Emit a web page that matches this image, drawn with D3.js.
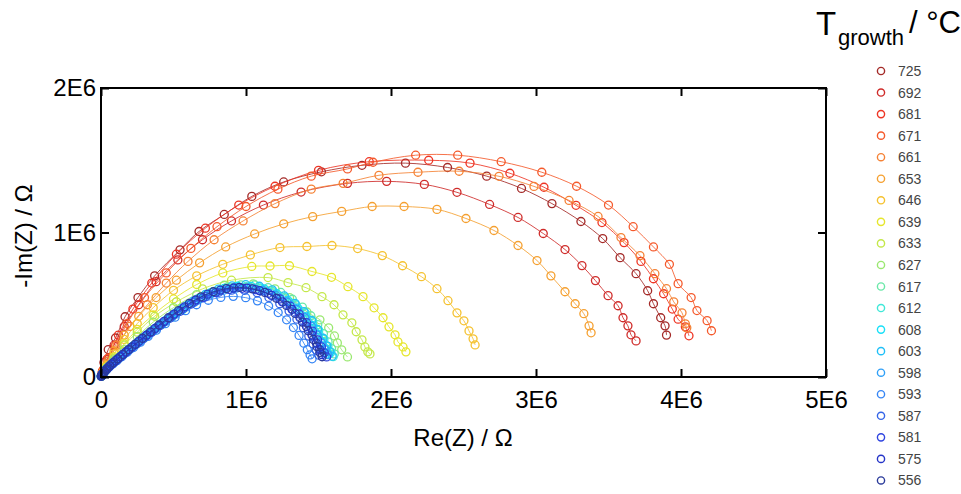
<!DOCTYPE html>
<html>
<head>
<meta charset="utf-8">
<script src="https://cdn.jsdelivr.net/npm/d3@7"></script>
<style>
  html, body { margin: 0; padding: 0; background: #fff; }
  svg { display: block; }
  text { font-family: Arial, "Liberation Sans", Helvetica, sans-serif; }
</style>
</head>
<body>
<svg id="chart" width="961" height="494"></svg>
<script>
// Impedance spectra (Nyquist plots), values in units of 1E6 Ω: [Re(Z), -Im(Z)]
const temperatures = ["725","692","681","671","661","653","646","639","633","627",
                      "617","612","608","603","598","593","587","581","575","556"];

const colors = ["#a42a28","#cf2c2a","#ee3524","#f55a2c","#f58235","#f5a030","#f5c230",
                "#e6e62c","#c4e84a","#9ae870","#6ae8a8","#40e8d8","#18e0f8","#20c0f8",
                "#30a0f8","#3585f5","#3565e8","#3045e0","#2535c8","#2a3a9a"];

const s725 = [[0.002,0.004],[0.008,0.03],[0.02,0.10],[0.05,0.19],[0.10,0.27],[0.166,0.417],[0.255,0.55],[0.37,0.70],[0.545,0.88],[0.676,1.007],[0.85,1.125],[1.04,1.25],[1.26,1.35],[1.52,1.42],[1.80,1.465],[2.10,1.48],[2.39,1.45],[2.66,1.39],[2.90,1.305],[3.11,1.20],[3.31,1.076],[3.46,0.958],[3.58,0.826],[3.69,0.715],[3.77,0.597],[3.81,0.507],[3.86,0.41],[3.89,0.354],[3.90,0.29]];
const s692 = [[0.004,0.01],[0.012,0.04],[0.04,0.12],[0.09,0.22],[0.16,0.35],[0.26,0.50],[0.38,0.66],[0.53,0.81],[0.70,0.95],[0.90,1.08],[1.12,1.19],[1.38,1.28],[1.70,1.34],[1.97,1.354],[2.23,1.333],[2.455,1.278],[2.68,1.194],[2.876,1.104],[3.05,0.993],[3.2,0.882],[3.317,0.771],[3.41,0.667],[3.497,0.563],[3.566,0.493],[3.60,0.41],[3.634,0.354],[3.655,0.292],[3.69,0.25]];
const s681 = [[0.003,0.01],[0.01,0.04],[0.05,0.13],[0.12,0.29],[0.22,0.47],[0.35,0.65],[0.52,0.85],[0.72,1.03],[0.95,1.19],[1.2,1.32],[1.5,1.43],[1.85,1.49],[2.26,1.50],[2.545,1.48],[2.82,1.41],[3.055,1.313],[3.276,1.188],[3.455,1.069],[3.607,0.93],[3.724,0.80],[3.81,0.68],[3.88,0.576],[3.94,0.47],[3.98,0.40],[4.03,0.347],[4.055,0.285]];
const s671 = [[0.004,0.01],[0.015,0.05],[0.05,0.13],[0.1,0.22],[0.18,0.37],[0.3,0.55],[0.45,0.72],[0.62,0.89],[0.8,1.04],[1.0,1.18],[1.22,1.30],[1.45,1.39],[1.70,1.44],[1.876,1.486],[2.17,1.535],[2.46,1.535],[2.76,1.49],[3.04,1.417],[3.28,1.32],[3.50,1.19],[3.67,1.04],[3.81,0.90],[3.92,0.78],[3.98,0.646],[4.07,0.55],[4.11,0.46],[4.18,0.39],[4.21,0.32]];
const s661 = [[0.004,0.01],[0.015,0.04],[0.05,0.11],[0.11,0.22],[0.2,0.35],[0.32,0.5],[0.45,0.65],[0.6,0.8],[0.78,0.95],[0.98,1.08],[1.2,1.2],[1.45,1.30],[1.67,1.34],[1.917,1.396],[2.186,1.417],[2.47,1.424],[2.745,1.389],[2.986,1.319],[3.228,1.222],[3.428,1.111],[3.586,0.965],[3.717,0.84],[3.82,0.715],[3.90,0.611],[3.95,0.52],[4.007,0.444],[4.03,0.368],[4.04,0.34]];
const s653 = [[0.004,0.008],[0.012,0.03],[0.04,0.09],[0.09,0.18],[0.16,0.29],[0.26,0.42],[0.38,0.55],[0.52,0.67],[0.68,0.79],[0.86,0.90],[1.06,0.99],[1.26,1.06],[1.46,1.11],[1.66,1.146],[1.87,1.18],[2.09,1.18],[2.317,1.16],[2.517,1.097],[2.71,1.014],[2.876,0.91],[3.007,0.806],[3.103,0.70],[3.2,0.59],[3.27,0.507],[3.33,0.438],[3.366,0.354],[3.38,0.306]];
const s646 = [[0.003,0.007],[0.01,0.025],[0.04,0.08],[0.09,0.16],[0.16,0.26],[0.25,0.37],[0.36,0.48],[0.5,0.6],[0.66,0.7],[0.84,0.78],[1.03,0.845],[1.234,0.896],[1.42,0.903],[1.593,0.91],[1.77,0.889],[1.94,0.84],[2.08,0.77],[2.21,0.694],[2.317,0.611],[2.393,0.528],[2.455,0.444],[2.503,0.389],[2.538,0.319],[2.566,0.264],[2.58,0.222]];
const s639 = [[0.003,0.006],[0.01,0.022],[0.04,0.07],[0.09,0.14],[0.16,0.23],[0.25,0.33],[0.36,0.43],[0.5,0.54],[0.66,0.64],[0.84,0.72],[1.04,0.765],[1.166,0.768],[1.30,0.77],[1.455,0.73],[1.59,0.69],[1.703,0.625],[1.807,0.556],[1.883,0.479],[1.945,0.41],[1.986,0.347],[2.028,0.292],[2.048,0.243],[2.083,0.208],[2.103,0.174]];
const s633 = [[0.003,0.006],[0.01,0.02],[0.04,0.065],[0.09,0.13],[0.16,0.22],[0.25,0.31],[0.37,0.42],[0.52,0.52],[0.7,0.61],[0.9,0.67],[1.152,0.688],[1.29,0.653],[1.414,0.618],[1.524,0.556],[1.607,0.50],[1.669,0.43],[1.73,0.375],[1.76,0.313],[1.80,0.257],[1.82,0.208],[1.84,0.174],[1.855,0.16]];
const s627 = [[0.003,0.005],[0.01,0.02],[0.04,0.06],[0.09,0.12],[0.16,0.19],[0.25,0.28],[0.36,0.38],[0.5,0.48],[0.66,0.57],[0.85,0.635],[1.05,0.645],[1.2,0.61],[1.3,0.55],[1.42,0.45],[1.51,0.396],[1.57,0.34],[1.61,0.284],[1.63,0.236],[1.66,0.188],[1.70,0.139]];
const s617 = [[0.004,0.009],[0.010,0.019],[0.020,0.032],[0.034,0.049],[0.053,0.069],[0.077,0.092],[0.106,0.117],[0.140,0.146],[0.180,0.179],[0.225,0.216],[0.276,0.256],[0.331,0.300],[0.392,0.348],[0.458,0.398],[0.530,0.450],[0.607,0.502],[0.689,0.551],[0.776,0.593],[0.869,0.622],[0.965,0.638],[1.06,0.637],[1.153,0.618],[1.240,0.585],[1.320,0.538],[1.389,0.484],[1.447,0.424],[1.495,0.362],[1.534,0.300],[1.566,0.243],[1.59,0.197],[1.609,0.160]];
const s612 = [[0.002,0.005],[0.006,0.013],[0.014,0.024],[0.025,0.038],[0.042,0.057],[0.063,0.078],[0.089,0.101],[0.121,0.127],[0.158,0.158],[0.200,0.192],[0.247,0.229],[0.299,0.271],[0.357,0.315],[0.42,0.364],[0.488,0.414],[0.562,0.465],[0.641,0.515],[0.725,0.561],[0.814,0.596],[0.908,0.618],[1.003,0.626],[1.097,0.616],[1.187,0.591],[1.271,0.550],[1.344,0.500],[1.407,0.444],[1.460,0.384],[1.502,0.323],[1.538,0.263],[1.565,0.212],[1.586,0.172],[1.601,0.141]];
const s608 = [[0.004,0.009],[0.010,0.019],[0.019,0.032],[0.033,0.048],[0.052,0.068],[0.075,0.090],[0.104,0.115],[0.137,0.144],[0.176,0.176],[0.220,0.213],[0.269,0.252],[0.323,0.296],[0.383,0.343],[0.448,0.393],[0.518,0.444],[0.593,0.495],[0.673,0.543],[0.758,0.584],[0.849,0.613],[0.942,0.628],[1.035,0.627],[1.126,0.609],[1.211,0.576],[1.289,0.530],[1.356,0.477],[1.413,0.418],[1.459,0.357],[1.498,0.296],[1.529,0.240],[1.553,0.194],[1.571,0.158]];
const s603 = [[0.002,0.005],[0.006,0.013],[0.014,0.025],[0.025,0.039],[0.042,0.058],[0.063,0.079],[0.089,0.103],[0.120,0.130],[0.157,0.161],[0.199,0.196],[0.246,0.234],[0.298,0.276],[0.355,0.321],[0.418,0.371],[0.486,0.422],[0.559,0.474],[0.637,0.525],[0.721,0.572],[0.810,0.608],[0.904,0.630],[0.998,0.639],[1.092,0.628],[1.181,0.603],[1.264,0.561],[1.338,0.510],[1.400,0.453],[1.453,0.391],[1.494,0.330],[1.531,0.268],[1.557,0.216],[1.578,0.175],[1.594,0.144]];
const s598 = [[0.004,0.009],[0.010,0.019],[0.019,0.031],[0.033,0.047],[0.052,0.067],[0.075,0.089],[0.103,0.113],[0.136,0.141],[0.175,0.173],[0.219,0.209],[0.268,0.248],[0.322,0.290],[0.381,0.336],[0.445,0.385],[0.515,0.435],[0.590,0.485],[0.670,0.533],[0.754,0.573],[0.845,0.601],[0.937,0.616],[1.03,0.615],[1.12,0.598],[1.205,0.565],[1.282,0.520],[1.349,0.468],[1.406,0.410],[1.452,0.350],[1.491,0.290],[1.522,0.235],[1.545,0.190],[1.563,0.155]];
const s593 = [[0.002,0.005],[0.006,0.012],[0.012,0.022],[0.023,0.034],[0.038,0.050],[0.057,0.069],[0.081,0.090],[0.110,0.113],[0.143,0.140],[0.181,0.171],[0.224,0.204],[0.272,0.241],[0.325,0.281],[0.382,0.324],[0.444,0.369],[0.511,0.414],[0.583,0.459],[0.659,0.500],[0.740,0.531],[0.826,0.551],[0.912,0.558],[0.998,0.549],[1.079,0.527],[1.156,0.491],[1.222,0.446],[1.280,0.396],[1.327,0.342],[1.366,0.288],[1.399,0.234],[1.423,0.189],[1.442,0.153],[1.456,0.126]];
const s587 = [[0.004,0.009],[0.009,0.018],[0.018,0.030],[0.032,0.046],[0.050,0.065],[0.072,0.086],[0.099,0.110],[0.131,0.137],[0.168,0.169],[0.210,0.203],[0.257,0.241],[0.309,0.283],[0.366,0.328],[0.428,0.375],[0.495,0.424],[0.567,0.473],[0.644,0.519],[0.725,0.558],[0.812,0.586],[0.901,0.601],[0.99,0.600],[1.077,0.583],[1.158,0.551],[1.233,0.507],[1.297,0.456],[1.351,0.400],[1.396,0.341],[1.433,0.283],[1.463,0.229],[1.485,0.185],[1.502,0.151]];
const s581 = [[0.002,0.005],[0.006,0.013],[0.013,0.024],[0.024,0.038],[0.041,0.055],[0.061,0.076],[0.087,0.099],[0.117,0.125],[0.153,0.154],[0.194,0.188],[0.240,0.225],[0.291,0.265],[0.347,0.309],[0.408,0.356],[0.474,0.406],[0.546,0.455],[0.622,0.505],[0.704,0.549],[0.791,0.584],[0.882,0.606],[0.974,0.614],[1.066,0.604],[1.153,0.579],[1.234,0.540],[1.306,0.490],[1.367,0.436],[1.418,0.376],[1.459,0.317],[1.494,0.257],[1.520,0.208],[1.540,0.168],[1.556,0.139]];
const s575 = [[0.004,0.009],[0.010,0.019],[0.019,0.031],[0.032,0.047],[0.050,0.067],[0.073,0.089],[0.101,0.113],[0.133,0.141],[0.171,0.173],[0.214,0.209],[0.261,0.248],[0.314,0.290],[0.372,0.336],[0.435,0.385],[0.503,0.435],[0.575,0.485],[0.653,0.533],[0.736,0.573],[0.824,0.601],[0.915,0.616],[1.005,0.615],[1.093,0.598],[1.176,0.565],[1.251,0.520],[1.317,0.468],[1.372,0.410],[1.417,0.350],[1.455,0.290],[1.485,0.235],[1.508,0.190],[1.525,0.155]];
const s556 = [[0.002,0.005],[0.006,0.013],[0.013,0.024],[0.024,0.038],[0.04,0.056],[0.06,0.077],[0.085,0.1],[0.115,0.126],[0.15,0.156],[0.19,0.19],[0.235,0.227],[0.285,0.268],[0.34,0.312],[0.4,0.36],[0.465,0.41],[0.535,0.46],[0.61,0.51],[0.69,0.555],[0.775,0.59],[0.865,0.612],[0.955,0.62],[1.045,0.61],[1.13,0.585],[1.21,0.545],[1.28,0.495],[1.34,0.44],[1.39,0.38],[1.43,0.32],[1.465,0.26],[1.49,0.21],[1.51,0.17],[1.525,0.14]];

const seriesValues = [s725,s692,s681,s671,s661,s653,s646,s639,s633,s627,
                      s617,s612,s608,s603,s598,s593,s587,s581,s575,s556];

const xTicks = [0,1,2,3,4,5];
const xTickLabels = ["0","1E6","2E6","3E6","4E6","5E6"];
const yTicks = [0,1,2];
const yTickLabels = ["0","1E6","2E6"];

// ---- layout ----
const svg = d3.select("#chart");
const plotLeft = 101, plotRight = 826, plotTop = 88, plotBottom = 377;

const x = d3.scaleLinear().domain([0, 5]).range([plotLeft, plotRight]);
const y = d3.scaleLinear().domain([0, 2]).range([plotBottom, plotTop]);

svg.append("rect").attr("width", 961).attr("height", 494).attr("fill", "#fff");

// data: fit lines and measured points
const plot = svg.append("g");
const line = d3.line().x(d => x(d[0])).y(d => y(d[1])).curve(d3.curveCatmullRom.alpha(0.5));

seriesValues.forEach((pts, i) => {
  const g = plot.append("g");
  g.append("path")
    .attr("d", line(pts))
    .attr("fill", "none")
    .attr("stroke", colors[i])
    .attr("stroke-opacity", 0.85)
    .attr("stroke-width", 1);
  g.selectAll("circle").data(pts).join("circle")
    .attr("cx", d => x(d[0]))
    .attr("cy", d => y(d[1]))
    .attr("r", 4)
    .attr("fill", "none")
    .attr("stroke", colors[i])
    .attr("stroke-width", 1.3);
});

// axes: ticks point inward on all four sides
const tickFont = 24;
const axB = svg.append("g").attr("transform", `translate(0,${plotBottom})`)
  .call(d3.axisBottom(x).tickValues(xTicks).tickSize(-8).tickPadding(14)
    .tickFormat((d, i) => xTickLabels[i]));
const axT = svg.append("g").attr("transform", `translate(0,${plotTop})`)
  .call(d3.axisTop(x).tickValues(xTicks).tickSize(-8).tickFormat(""));
const axL = svg.append("g").attr("transform", `translate(${plotLeft},0)`)
  .call(d3.axisLeft(y).tickValues(yTicks).tickSize(-8).tickPadding(5)
    .tickFormat((d, i) => yTickLabels[i]));
const axR = svg.append("g").attr("transform", `translate(${plotRight},0)`)
  .call(d3.axisRight(y).tickValues(yTicks).tickSize(-8).tickFormat(""));

[axB, axT, axL, axR].forEach(a => {
  a.select(".domain").remove();
  a.selectAll(".tick line").attr("stroke", "#000").attr("stroke-width", 2);
  a.selectAll(".tick text")
    .attr("font-family", "Arial, 'Liberation Sans', sans-serif")
    .attr("font-size", tickFont).attr("fill", "#000");
});

svg.append("rect")
  .attr("x", plotLeft).attr("y", plotTop)
  .attr("width", plotRight - plotLeft).attr("height", plotBottom - plotTop)
  .attr("fill", "none").attr("stroke", "#000").attr("stroke-width", 2);

// axis titles
svg.append("text")
  .attr("x", 463).attr("y", 446)
  .attr("text-anchor", "middle")
  .attr("font-size", 24).attr("fill", "#000")
  .text("Re(Z) / Ω");

svg.append("text")
  .attr("transform", "translate(32,236) rotate(-90)")
  .attr("text-anchor", "middle")
  .attr("font-size", 24).attr("fill", "#000")
  .text("-Im(Z) / Ω");

// legend
const lg = svg.append("g");
lg.append("text").attr("x", 816).attr("y", 35).attr("font-size", 33).attr("fill", "#000").text("T");
lg.append("text").attr("x", 838).attr("y", 45).attr("font-size", 22).attr("fill", "#000").text("growth");
lg.append("text").attr("x", 909).attr("y", 33).attr("font-size", 31).attr("fill", "#000").text("/ °C");

const legendY0 = 71, legendStep = 21.55;
temperatures.forEach((t, i) => {
  const yy = legendY0 + i * legendStep;
  lg.append("circle").attr("cx", 881).attr("cy", yy).attr("r", 3.6)
    .attr("fill", "none").attr("stroke", colors[i]).attr("stroke-width", 1.4);
  lg.append("text").attr("x", 898).attr("y", yy + 5)
    .attr("font-size", 14).attr("fill", "#444").text(t);
});
</script>
</body>
</html>
